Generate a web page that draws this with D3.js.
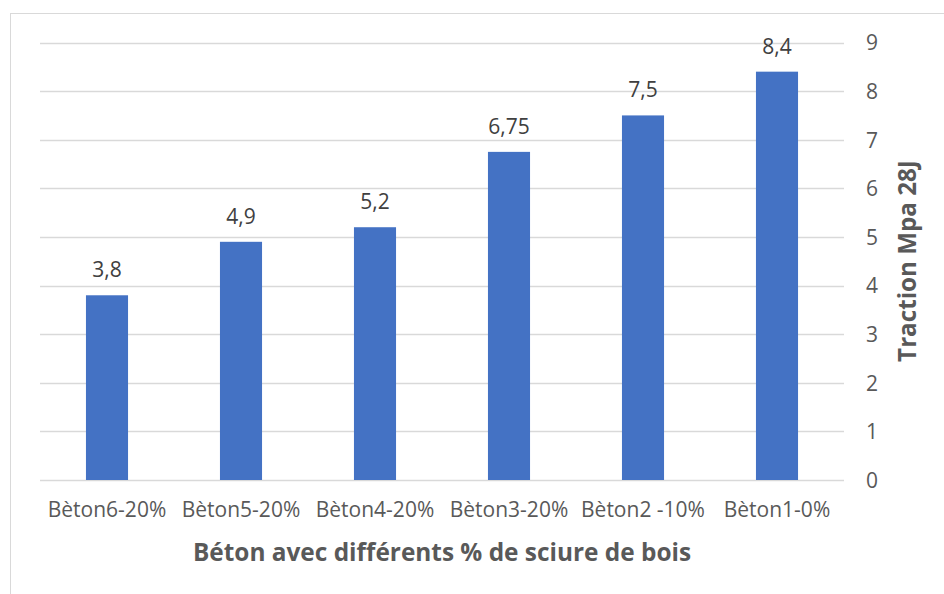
<!DOCTYPE html>
<html>
<head>
<meta charset="utf-8">
<script src="https://cdn.jsdelivr.net/npm/d3@7"></script>
<style>
  html, body { margin: 0; padding: 0; background: #fff; }
  svg { display: block; }
  text { font-family: "Open Sans", "Liberation Sans", sans-serif; fill: #595959; }
</style>
</head>
<body>
<svg id="chart" width="944" height="594"></svg>
<script>
// Tensile strength at 28 days for concrete mixes with sawdust
const categories = ["Bèton6-20%", "Bèton5-20%", "Bèton4-20%", "Bèton3-20%", "Bèton2 -10%", "Bèton1-0%"];
const values = [3.8, 4.9, 5.2, 6.75, 7.5, 8.4];
const yTicks = [0, 1, 2, 3, 4, 5, 6, 7, 8, 9];
const xTitle = "Béton avec différents % de sciure de bois";
const yTitle = "Traction Mpa 28J";

const svg = d3.select("#chart");
const fmt = v => String(v).replace(".", ",");

// Chart frame
svg.append("rect")
  .attr("x", 10.5).attr("y", 13.5)
  .attr("width", 960).attr("height", 620)
  .attr("fill", "#fff").attr("stroke", "#d9d9d9").attr("stroke-width", 1);

const x = d3.scaleBand()
  .domain(categories)
  .range([40, 844])
  .paddingInner(0.686)
  .paddingOuter(0.343);

const y = d3.scaleLinear().domain([0, 9]).range([480, 42.5]);

// Gridlines
svg.append("g")
  .selectAll("line")
  .data(yTicks)
  .join("line")
  .attr("x1", 40).attr("x2", 844)
  .attr("y1", d => Math.round(y(d)) + 0.5)
  .attr("y2", d => Math.round(y(d)) + 0.5)
  .attr("stroke", "#d9d9d9").attr("stroke-width", 1.3);

// Bars
svg.append("g")
  .selectAll("rect")
  .data(values)
  .join("rect")
  .attr("x", (d, i) => x(categories[i]))
  .attr("width", x.bandwidth())
  .attr("y", d => y(d))
  .attr("height", d => y(0) - y(d))
  .attr("fill", "#4472c4");

// Value labels
svg.append("g")
  .selectAll("text")
  .data(values)
  .join("text")
  .attr("x", (d, i) => x(categories[i]) + x.bandwidth() / 2)
  .attr("y", d => y(d) - 18)
  .attr("text-anchor", "middle")
  .attr("font-size", 21)
  .style("fill", "#404040")
  .text(d => fmt(d));

// Right value axis
const yAxis = d3.axisRight(y).tickValues(yTicks).tickSize(0).tickPadding(0).tickFormat(d => d);
const gy = svg.append("g").attr("transform", "translate(866,0)").call(yAxis);
gy.select(".domain").remove();
gy.selectAll("text").attr("font-size", 21).attr("font-family", null).attr("fill", null).attr("dy", "0.35em");

// Category axis
const xAxis = d3.axisBottom(x).tickSize(0).tickPadding(0);
const gx = svg.append("g").attr("transform", "translate(0,502)").call(xAxis);
gx.select(".domain").remove();
gx.selectAll("text").attr("font-size", 21).attr("font-family", null).attr("fill", null).attr("dy", "0.71em");

// Axis titles
svg.append("text")
  .attr("x", 442).attr("y", 561)
  .attr("text-anchor", "middle")
  .attr("font-size", 24.4).attr("font-weight", "bold")
  .text(xTitle);

svg.append("text")
  .attr("transform", "translate(916,261) rotate(-90)")
  .attr("text-anchor", "middle")
  .attr("font-size", 24.2).attr("font-weight", "bold")
  .text(yTitle);
</script>
</body>
</html>
